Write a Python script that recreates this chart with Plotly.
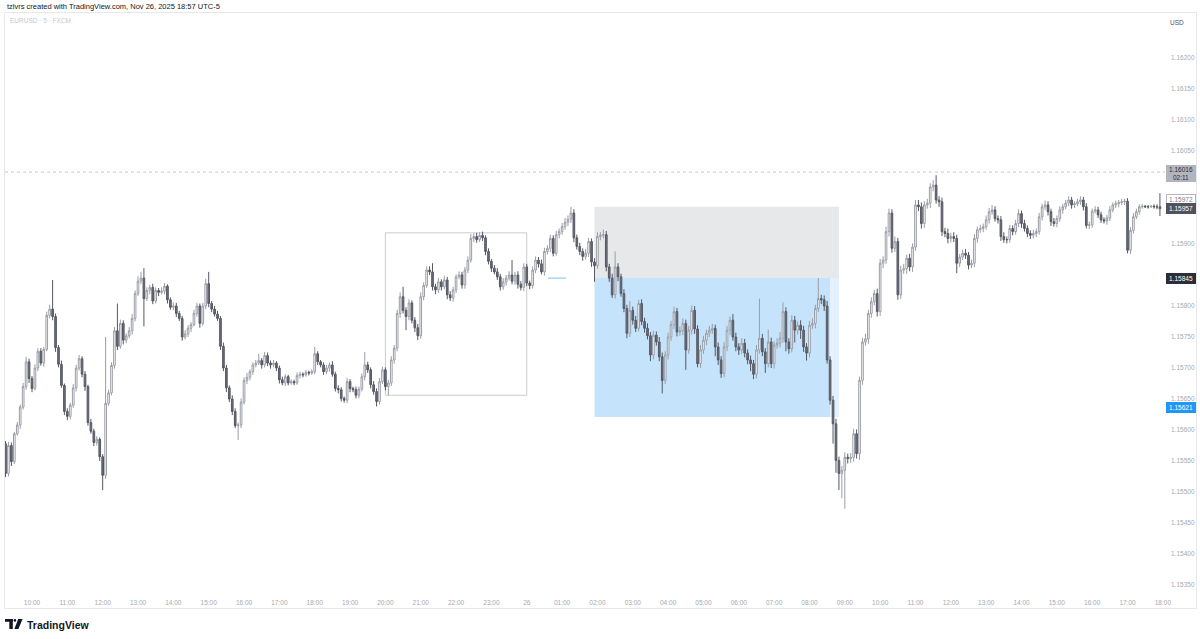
import numpy as np
import pandas as pd
import plotly.graph_objects as go

W, H = 1200, 639
PL, PR, PT, PB = 5, 1165, 12, 592  # plot area in pixels

# ---------------- data (price points are 1e-5 above 1.15000) ----------------
first_open_pts = 578
close_pts = [
    530, 575, 549, 594, 608, 637, 670, 710, 683, 667, 700, 727,
    708, 730, 785, 795, 783, 733, 706, 672, 630, 622, 640, 668,
    700, 715, 690, 670, 612, 598, 580, 585, 557, 527, 643, 660,
    704, 760, 735, 772, 745, 752, 760, 780, 820, 840, 845, 812,
    825, 830, 808, 825, 822, 824, 832, 810, 798, 800, 788, 780,
    750, 755, 764, 770, 788, 800, 772, 800, 836, 804, 795, 787,
    780, 735, 700, 668, 650, 630, 607, 608, 645, 680, 685, 694,
    705, 708, 712, 705, 720, 708, 705, 708, 700, 681, 676, 686,
    676, 678, 676, 688, 690, 689, 693, 692, 694, 723, 710, 705,
    694, 700, 705, 690, 667, 665, 651, 648, 678, 667, 665, 656,
    666, 686, 705, 697, 673, 662, 646, 678, 697, 670, 676, 713,
    732, 788, 815, 793, 783, 805, 777, 765, 752, 815, 833, 858,
    855, 831, 826, 839, 831, 842, 818, 813, 826, 847, 850, 834,
    858, 874, 909, 912, 907, 914, 910, 888, 872, 861, 855, 847,
    831, 839, 845, 850, 840, 850, 835, 830, 863, 837, 833, 858,
    874, 868, 855, 888, 893, 909, 885, 915, 920, 928, 935, 940,
    950, 910, 896, 888, 880, 885, 904, 871, 865, 912, 914, 915,
    863, 845, 818, 863, 847, 820, 796, 756, 793, 777, 764, 804,
    775, 764, 752, 721, 753, 742, 718, 680, 721, 750, 770, 791,
    758, 760, 772, 729, 761, 793, 763, 707, 729, 745, 756, 761,
    764, 734, 713, 691, 734, 761, 777, 750, 734, 729, 740, 724,
    713, 707, 690, 729, 748, 726, 707, 742, 707, 737, 740, 748,
    791, 742, 731, 777, 761, 769, 761, 734, 724, 769, 772, 796,
    812, 810, 800, 713, 648, 610, 551, 530, 535, 556, 554, 556,
    594, 562, 680, 742, 747, 788, 807, 820, 791, 869, 874, 920,
    950, 893, 904, 818, 858, 860, 877, 863, 895, 963, 960, 933,
    963, 966, 992, 995, 971, 968, 920, 917, 909, 912, 909, 869,
    879, 885, 882, 866, 869, 909, 923, 925, 928, 939, 952, 955,
    941, 939, 912, 907, 907, 925, 920, 933, 949, 933, 925, 917,
    914, 917, 920, 944, 960, 963, 952, 936, 933, 941, 955, 960,
    966, 971, 963, 965, 968, 971, 960, 930, 931, 953, 955, 947,
    939, 937, 942, 955, 963, 965, 967, 968, 969, 890, 922, 944,
    952, 960, 961, 960, 960, 961, 960, 960, 957,
]
upper_wick_pts = [
    4, 6, 5, 3, 5, 4, 6, 8, 5, 4, 6, 5,
    5, 4, 6, 7, 47, 5, 4, 6, 3, 5, 4, 6,
    5, 6, 4, 5, 3, 6, 4, 5, 3, 4, 107, 5,
    5, 6, 44, 6, 5, 4, 6, 7, 5, 8, 10, 16,
    5, 4, 6, 5, 4, 6, 5, 3, 4, 6, 5, 4,
    4, 6, 5, 4, 6, 5, 4, 5, 8, 19, 4, 5,
    5, 4, 6, 5, 4, 6, 5, 4, 6, 5, 7, 4,
    4, 5, 11, 4, 6, 5, 4, 5, 3, 4, 5, 4,
    3, 4, 3, 5, 4, 3, 4, 3, 4, 11, 4, 3,
    4, 5, 4, 6, 4, 5, 4, 3, 6, 4, 3, 5,
    4, 5, 21, 5, 4, 6, 5, 6, 5, 4, 5, 6,
    5, 6, 7, 16, 5, 6, 4, 5, 6, 7, 5, 6,
    6, 14, 5, 6, 4, 7, 5, 6, 5, 4, 6, 5,
    5, 6, 7, 5, 6, 5, 6, 4, 5, 4, 5, 6,
    5, 6, 5, 6, 24, 5, 6, 5, 6, 5, 4, 6,
    6, 5, 7, 6, 5, 6, 5, 6, 5, 6, 7, 6,
    10, 6, 5, 6, 5, 7, 6, 5, 6, 7, 5, 8,
    6, 5, 7, 25, 6, 5, 7, 6, 15, 6, 7, 6,
    7, 6, 8, 6, 7, 6, 8, 7, 6, 7, 6, 8,
    6, 7, 8, 6, 7, 8, 7, 6, 8, 7, 6, 7,
    7, 6, 7, 6, 8, 7, 6, 10, 7, 6, 8, 7,
    6, 7, 6, 8, 64, 7, 6, 20, 7, 6, 8, 10,
    15, 7, 6, 8, 7, 6, 8, 7, 6, 7, 8, 6,
    33, 6, 7, 8, 6, 7, 8, 6, 7, 8, 6, 7,
    8, 7, 6, 7, 8, 6, 7, 6, 8, 7, 6, 8,
    7, 6, 8, 6, 7, 8, 6, 7, 6, 8, 8, 7,
    6, 7, 6, 8, 16, 6, 7, 6, 8, 6, 7, 6,
    5, 6, 7, 5, 6, 7, 5, 6, 5, 7, 6, 8,
    6, 5, 6, 7, 5, 6, 5, 6, 7, 5, 6, 5,
    5, 6, 5, 6, 5, 7, 6, 5, 6, 5, 6, 5,
    5, 6, 5, 4, 5, 6, 5, 6, 5, 4, 6, 5,
    5, 4, 5, 6, 4, 5, 4, 5, 4, 5, 5, 6,
    5, 4, 3, 2, 3, 2, 3, 4, 22,
]
lower_wick_pts = [
    6, 5, 7, 4, 3, 6, 4, 5, 7, 6, 3, 5,
    4, 6, 3, 5, 6, 7, 5, 4, 6, 6, 5, 4,
    6, 4, 5, 7, 5, 4, 6, 5, 7, 24, 6, 4,
    4, 5, 6, 4, 7, 5, 4, 6, 5, 4, 5, 45,
    4, 6, 5, 4, 6, 3, 5, 6, 4, 5, 6, 4,
    6, 4, 5, 6, 3, 5, 7, 4, 5, 6, 5, 4,
    4, 6, 5, 7, 5, 6, 4, 23, 5, 4, 6, 5,
    5, 4, 3, 6, 4, 5, 6, 4, 5, 6, 4, 5,
    4, 3, 4, 3, 5, 4, 3, 4, 3, 4, 5, 4,
    5, 4, 6, 4, 5, 6, 5, 4, 5, 6, 4, 5,
    5, 4, 6, 5, 6, 5, 8, 5, 4, 6, 14, 5,
    6, 5, 7, 5, 22, 6, 5, 7, 7, 5, 6, 4,
    5, 6, 7, 5, 6, 4, 7, 5, 6, 5, 4, 6,
    6, 5, 4, 6, 5, 4, 5, 6, 5, 6, 4, 5,
    6, 5, 6, 4, 5, 6, 7, 5, 6, 5, 6, 5,
    5, 6, 4, 6, 5, 6, 5, 4, 6, 5, 5, 6,
    6, 7, 5, 6, 7, 5, 6, 8, 26, 5, 6, 5,
    7, 6, 5, 6, 7, 5, 6, 8, 6, 7, 6, 5,
    6, 7, 6, 10, 7, 6, 7, 21, 6, 7, 6, 7,
    7, 6, 7, 32, 6, 7, 8, 6, 7, 6, 8, 6,
    6, 15, 8, 7, 6, 7, 8, 6, 7, 8, 6, 7,
    7, 12, 8, 7, 6, 7, 15, 6, 7, 8, 6, 7,
    7, 15, 8, 6, 20, 7, 14, 8, 12, 7, 6, 8,
    6, 7, 8, 6, 7, 32, 20, 27, 40, 62, 8, 7,
    7, 8, 10, 7, 6, 8, 7, 6, 8, 7, 8, 6,
    8, 7, 6, 8, 7, 6, 8, 7, 8, 6, 7, 8,
    7, 6, 8, 7, 6, 8, 7, 6, 8, 7, 6, 16,
    6, 5, 6, 7, 5, 6, 7, 5, 6, 5, 6, 5,
    5, 6, 7, 5, 6, 5, 6, 5, 6, 7, 5, 6,
    6, 5, 6, 5, 6, 5, 6, 7, 5, 6, 5, 6,
    4, 5, 6, 5, 4, 5, 6, 5, 6, 5, 4, 5,
    5, 4, 6, 5, 4, 5, 6, 4, 5, 5, 6, 5,
    4, 5, 3, 2, 3, 2, 3, 4, 12,
]

hour_ticks = pd.date_range("2025-11-25 10:00", "2025-11-26 18:00", freq="1h")
hour_labels = ["26" if t.hour == 0 else t.strftime("%H:%M") for t in hour_ticks]
price_ticks = [1.1535, 1.154, 1.1545, 1.155, 1.1555, 1.156, 1.1565, 1.157,
               1.1575, 1.158, 1.159, 1.1605, 1.161, 1.1615, 1.162]

# drawings (times, prices)
box_t0, box_t1 = "2025-11-25 20:00", "2025-11-26 00:00"
box_p0, box_p1 = 1.15656, 1.15918
pos_t0, pos_t_close, pos_t1 = "2025-11-26 01:55", "2025-11-26 08:35", "2025-11-26 08:50"
pos_target, pos_entry, pos_stop = 1.15960, 1.15845, 1.15621
seg_t0, seg_t1, seg_p = "2025-11-26 00:36", "2025-11-26 01:07", 1.15845
dotted_p = 1.16016

# ---------------- build ----------------
assert len(close_pts) == len(upper_wick_pts) == len(lower_wick_pts)
times = pd.date_range("2025-11-25 09:15", periods=len(close_pts), freq="5min")
base = 1.15
close = base + np.array(close_pts) / 1e5
open_ = np.r_[base + first_open_pts / 1e5, close[:-1]]
high = np.maximum(open_, close) + np.array(upper_wick_pts) / 1e5
low = np.minimum(open_, close) - np.array(lower_wick_pts) / 1e5

fig = go.Figure()
fig.add_trace(go.Candlestick(
    x=times, open=open_, high=high, low=low, close=close,
    increasing=dict(line=dict(color="#9a9da6", width=1), fillcolor="#ffffff"),
    decreasing=dict(line=dict(color="#555863", width=1), fillcolor="#6c6f7a"),
    whiskerwidth=0, hoverinfo="skip", showlegend=False,
))


def fx(px):
    return (px - PL) / (PR - PL)


def fy(py):
    return (PB - py) / (PB - PT)


shapes = []
# position tool
shapes.append(dict(type="rect", xref="x", yref="y", x0=pos_t0, x1=pos_t1, y0=pos_entry, y1=pos_target,
                   fillcolor="#e7e8ea", line=dict(width=0), layer="below"))
shapes.append(dict(type="rect", xref="x", yref="y", x0=pos_t0, x1=pos_t_close, y0=pos_stop, y1=pos_entry,
                   fillcolor="#c5e4fb", line=dict(width=0), layer="below"))
shapes.append(dict(type="rect", xref="x", yref="y", x0=pos_t_close, x1=pos_t1, y0=pos_stop, y1=pos_entry,
                   fillcolor="#e2f1fd", line=dict(width=0), layer="below"))
# rectangle drawing
shapes.append(dict(type="rect", xref="x", yref="y", x0=box_t0, x1=box_t1, y0=box_p0, y1=box_p1,
                   line=dict(color="#c9cbd0", width=1), fillcolor="rgba(0,0,0,0)", layer="below"))
# small segment
shapes.append(dict(type="line", xref="x", yref="y", x0=seg_t0, x1=seg_t1, y0=seg_p, y1=seg_p,
                   line=dict(color="#7cc0e6", width=1)))
# dotted line
shapes.append(dict(type="line", xref="paper", yref="y", x0=0, x1=1, y0=dotted_p, y1=dotted_p,
                   line=dict(color="#c3c6cc", width=1, dash="dot"), layer="below"))
# frame
shapes.append(dict(type="rect", xref="paper", yref="paper", x0=fx(4.5), x1=fx(1196.5), y0=fy(12.5), y1=fy(608.5),
                   line=dict(color="#e6e8ec", width=1), fillcolor="rgba(0,0,0,0)", layer="below"))
# TradingView logo mark
shapes.append(dict(type="rect", xref="paper", yref="paper", x0=fx(5), x1=fx(12.8), y0=fy(619), y1=fy(621.8),
                   fillcolor="#131722", line=dict(width=0)))
shapes.append(dict(type="rect", xref="paper", yref="paper", x0=fx(9.3), x1=fx(12.8), y0=fy(619), y1=fy(629),
                   fillcolor="#131722", line=dict(width=0)))
shapes.append(dict(type="circle", xref="paper", yref="paper", x0=fx(13.6), x1=fx(16.2), y0=fy(619), y1=fy(621.8),
                   fillcolor="#131722", line=dict(width=0)))
shapes.append(dict(type="path", xref="paper", yref="paper",
                   path=f"M {fx(18.2)} {fy(619)} L {fx(22.6)} {fy(619)} L {fx(18.4)} {fy(629)} L {fx(14.4)} {fy(629)} Z",
                   fillcolor="#131722", line=dict(width=0)))

ann = []
ann.append(dict(text="tzlvrs created with TradingView.com, Nov 26, 2025 18:57 UTC-5", xref="paper", yref="paper",
                x=fx(5), y=fy(6.5), xanchor="left", yanchor="middle", showarrow=False,
                font=dict(size=7.5, color="#131722")))
ann.append(dict(text="EURUSD · 5 · FXCM", xref="paper", yref="paper",
                x=fx(8), y=fy(20), xanchor="left", yanchor="middle", showarrow=False,
                font=dict(size=6.5, color="#c5c8ce")))
ann.append(dict(text="USD", xref="paper", yref="paper",
                x=fx(1177), y=fy(22), xanchor="center", yanchor="middle", showarrow=False,
                font=dict(size=6.5, color="#50535e")))
ann.append(dict(text="<b>TradingView</b>", xref="paper", yref="paper",
                x=fx(25), y=fy(624.5), xanchor="left", yanchor="middle", showarrow=False,
                font=dict(size=10.5, color="#131722")))


def price_label(p, text, bg, fg, border=None, h=9):
    ann.append(dict(text=text, xref="paper", yref="y", x=fx(1180.5), y=p, xanchor="center", yanchor="middle",
                    showarrow=False, bgcolor=bg, bordercolor=border or bg, borderwidth=1, borderpad=0,
                    width=28, height=h, font=dict(size=6.5, color=fg)))


price_label(dotted_p - 0.00003, "1.16016<br>02:11", "#b2b5be", "#2a2e39", h=15)
price_label(1.15972, "1.15972", "#ffffff", "#787b86", border="#b2b5be")
price_label(close[-1], "1.15957", "#50535e", "#ffffff")
price_label(pos_entry, "1.15845", "#2a2e39", "#ffffff")
price_label(pos_stop + 0.00015, "1.15621", "#2196f3", "#ffffff")

fig.update_layout(
    width=W, height=H,
    margin=dict(l=PL, r=W - PR, t=PT, b=H - PB),
    paper_bgcolor="#ffffff", plot_bgcolor="#ffffff",
    font=dict(family="Liberation Sans, Arial, sans-serif"),
    shapes=shapes, annotations=ann, hovermode=False, showlegend=False,
    boxgap=0.2,
    xaxis=dict(type="date", range=["2025-11-25 09:14:10", "2025-11-26 18:03:36"],
               rangeslider=dict(visible=False), showgrid=False, zeroline=False, showline=False,
               tickvals=list(hour_ticks), ticktext=hour_labels, ticks="", ticklen=0,
               ticklabelstandoff=5,
               tickfont=dict(size=6.5, color="#a6a9b1")),
    yaxis=dict(range=[1.153387, 1.162742], side="right", showgrid=False, zeroline=False, showline=False,
               tickvals=price_ticks, ticktext=[f"{v:.5f}" for v in price_ticks], ticks="",
               ticklabelstandoff=5,
               tickfont=dict(size=6.5, color="#a6a9b1")),
)

fig.write_html("out.html", config={"displayModeBar": False},
               post_script="document.body.style.margin='0';document.body.style.overflow='hidden';")
